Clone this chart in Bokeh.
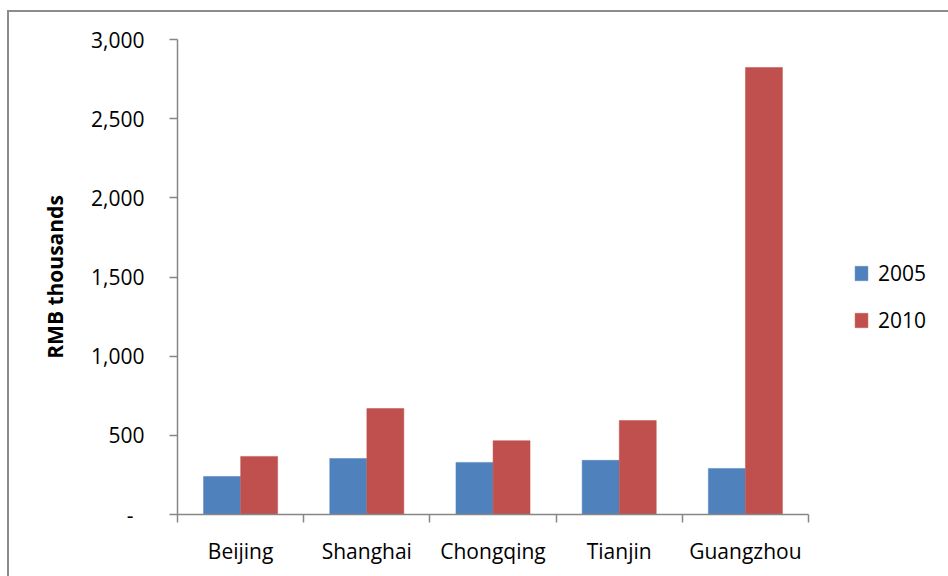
import numpy as np
from bokeh.plotting import figure
from bokeh.models import (ColumnDataSource, Range1d, FixedTicker, NumeralTickFormatter,
                          Legend, LegendItem)
from bokeh.embed import file_html
from bokeh.resources import INLINE

cities = ["Beijing", "Shanghai", "Chongqing", "Tianjin", "Guangzhou"]
years = ["2005", "2010"]
values_2005 = [240, 354, 329, 342, 291]
values_2010 = [367, 669, 466, 593, 2823]
y_ticks = [0, 500, 1000, 1500, 2000, 2500, 3000]
y_label = "RMB thousands"

colors = ["#4F81BD", "#C0504D"]
FONT = "Open Sans"

idx = np.arange(len(cities))
centers = idx + 0.5
bar_w = 0.293
offset = 0.147

src = ColumnDataSource(dict(
    x05=centers - offset, x10=centers + offset,
    v05=values_2005, v10=values_2010))

p = figure(frame_width=631, frame_height=475,
           min_border_left=168, min_border_right=140,
           min_border_top=27, min_border_bottom=62,
           x_range=Range1d(0, len(cities)), y_range=Range1d(0, 3000),
           output_backend="svg", toolbar_location=None, tools="")
p.styles = {"margin-left": "9px", "margin-top": "12px",
            "outline": "2px solid #8c8c8c", "outline-offset": "0px"}

r05 = p.vbar(x="x05", top="v05", width=bar_w, bottom=0, source=src,
             fill_color=colors[0], line_color=colors[0], line_width=0.5)
r10 = p.vbar(x="x10", top="v10", width=bar_w, bottom=0, source=src,
             fill_color=colors[1], line_color=colors[1], line_width=0.5)

p.outline_line_color = None
p.grid.grid_line_color = None
p.background_fill_color = "white"
p.border_fill_color = "white"

axis_color = "#868686"

# x axis: labels at category centres, tick marks at category boundaries
xa = p.xaxis[0]
xa.ticker = FixedTicker(ticks=list(centers), minor_ticks=list(map(float, np.arange(len(cities) + 1))))
xa.major_label_overrides = {float(c): name for c, name in zip(centers, cities)}
xa.major_tick_line_color = None
xa.minor_tick_line_color = axis_color
xa.minor_tick_line_width = 1.5
xa.minor_tick_out = 8
xa.minor_tick_in = 0
xa.axis_line_color = axis_color
xa.axis_line_width = 1.5
xa.major_label_text_font = FONT
xa.major_label_text_font_size = "21px"
xa.major_label_text_color = "black"
xa.major_label_standoff = 14

ya = p.yaxis[0]
ya.ticker = FixedTicker(ticks=y_ticks, minor_ticks=[])
ya.formatter = NumeralTickFormatter(format="0,0")
ya.major_label_overrides = {0: "-\u00a0\u00a0"}
ya.major_tick_line_color = axis_color
ya.major_tick_line_width = 1.5
ya.major_tick_out = 8
ya.major_tick_in = 0
ya.axis_line_color = axis_color
ya.axis_line_width = 1.5
ya.major_label_text_font = FONT
ya.major_label_text_font_size = "21px"
ya.major_label_text_color = "black"
ya.major_label_standoff = 25
ya.axis_label = y_label
ya.axis_label_text_font = FONT
ya.axis_label_text_font_size = "21px"
ya.axis_label_text_font_style = "bold"
ya.axis_label_text_color = "black"
ya.axis_label_standoff = 19

legend = Legend(items=[LegendItem(label=years[0], renderers=[r05]),
                       LegendItem(label=years[1], renderers=[r10])],
                location=(45, 180), orientation="vertical",
                glyph_width=16, glyph_height=18, label_height=18,
                spacing=19, padding=0, margin=0, label_standoff=9,
                label_text_font=FONT, label_text_font_size="21px",
                label_text_color="black",
                border_line_color=None, background_fill_alpha=0)
p.add_layout(legend, "right")

open("out.html", "w").write(file_html(p, INLINE))
